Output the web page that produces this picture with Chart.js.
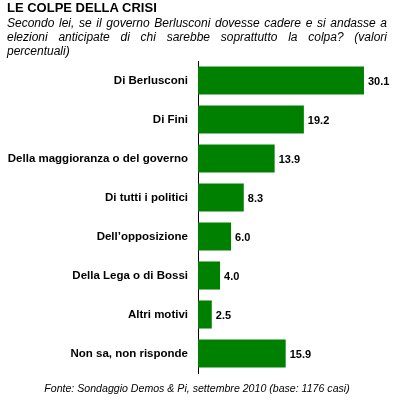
<!DOCTYPE html>
<html>
<head>
<meta charset="utf-8">
<script src="https://cdn.jsdelivr.net/npm/chart.js@4/dist/chart.umd.min.js"></script>
<style>
  html, body { margin: 0; padding: 0; background: #ffffff; }
  #wrap { position: relative; width: 394px; height: 404px; overflow: hidden; }
  #chart { position: absolute; left: 0; top: 0; }
  #title {
    position: absolute; left: 7px; top: 0px;
    font: bold 13px "Liberation Sans", Arial, sans-serif; color: #000;
  }
  #subtitle {
    position: absolute; left: 7px; top: 16px; width: 380px;
    font: italic 12px/14px "Liberation Sans", Arial, sans-serif; color: #000;
  }
  #subtitle div { white-space: nowrap; }
  #subtitle .j { text-align: justify; text-align-last: justify; }
  #source {
    position: absolute; left: 0; top: 382px; width: 394px; text-align: center;
    font: italic 10.6px "Liberation Sans", Arial, sans-serif; color: #000;
  }
</style>
</head>
<body>
<div id="wrap">
  <canvas id="chart" width="394" height="404"></canvas>
  <div id="title">LE COLPE DELLA CRISI</div>
  <div id="subtitle">
    <div class="j">Secondo lei, se il governo Berlusconi dovesse cadere e si andasse a</div>
    <div class="j">elezioni anticipate di chi sarebbe soprattutto la colpa? (valori</div>
    <div>percentuali)</div>
  </div>
  <div id="source">Fonte: Sondaggio Demos &amp; Pi, settembre 2010 (base: 1176 casi)</div>
</div>
<script>
// Data
const categories = [
  "Di Berlusconi",
  "Di Fini",
  "Della maggioranza o del governo",
  "Di tutti i politici",
  "Dell\u2019opposizione",
  "Della Lega o di Bossi",
  "Altri motivi",
  "Non sa, non risponde",
];
const values = [30.1, 19.2, 13.9, 8.3, 6.0, 4.0, 2.5, 15.9];

const FONT = '"Liberation Sans", Arial, sans-serif';

// Value labels to the right of each bar
const valueLabels = {
  id: "valueLabels",
  afterDatasetsDraw(chart) {
    const ctx = chart.ctx;
    const meta = chart.getDatasetMeta(0);
    ctx.save();
    ctx.font = "bold 11px " + FONT;
    ctx.fillStyle = "#000000";
    ctx.textAlign = "left";
    ctx.textBaseline = "middle";
    meta.data.forEach((bar, i) => {
      ctx.fillText(values[i].toFixed(1), bar.x + 4, bar.y + 1);
    });
    ctx.restore();
  },
};

new Chart(document.getElementById("chart").getContext("2d"), {
  type: "bar",
  data: {
    labels: categories,
    datasets: [
      {
        data: values,
        backgroundColor: "#008000",
        borderWidth: 0,
        barPercentage: 0.72,
        categoryPercentage: 1.0,
      },
    ],
  },
  options: {
    indexAxis: "y",
    responsive: false,
    animation: false,
    layout: {
      padding: { top: 61, bottom: 31, left: 0, right: 3 },
    },
    plugins: {
      legend: { display: false },
      tooltip: { enabled: false },
    },
    scales: {
      x: {
        display: false,
        min: 0,
        max: 35,
      },
      y: {
        afterFit(scale) {
          scale.width = 198;
        },
        grid: { display: false, drawTicks: false },
        border: { display: true, color: "#000000", width: 1 },
        ticks: {
          color: "#000000",
          padding: 10,
          font: { family: FONT, size: 11.5, weight: "bold" },
        },
      },
    },
  },
  plugins: [valueLabels],
});
</script>
</body>
</html>
